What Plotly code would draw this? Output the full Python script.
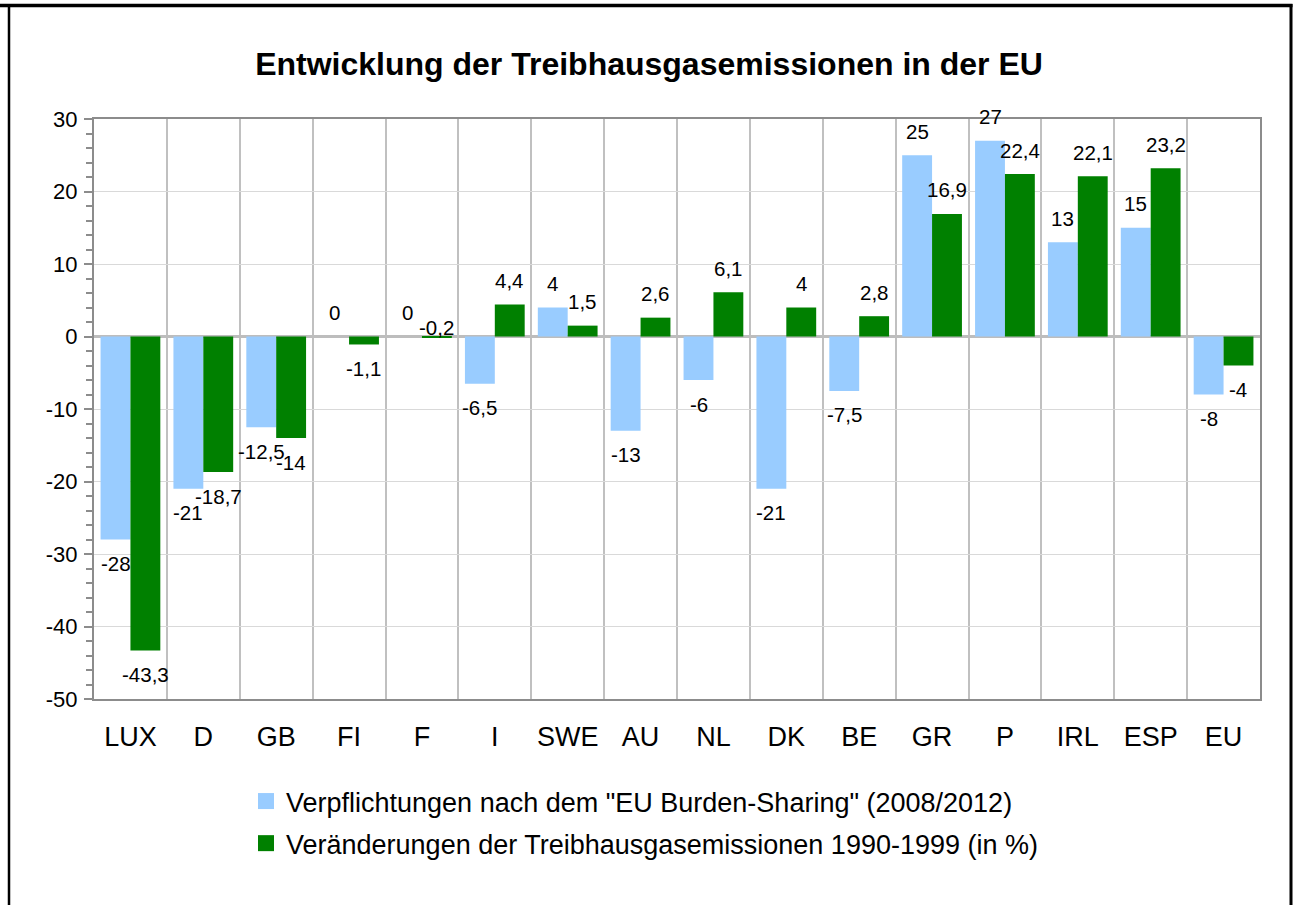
import plotly.graph_objects as go

# ---------------- data ----------------
countries = ["LUX", "D", "GB", "FI", "F", "I", "SWE", "AU", "NL", "DK",
             "BE", "GR", "P", "IRL", "ESP", "EU"]
commitments = [-28, -21, -12.5, 0, 0, -6.5, 4, -13, -6, -21, -7.5, 25, 27, 13, 15, -8]
changes = [-43.3, -18.7, -14, -1.1, -0.2, 4.4, 1.5, 2.6, 6.1, 4, 2.8, 16.9, 22.4, 22.1, 23.2, -4]
series_names = ['Verpflichtungen nach dem "EU Burden-Sharing" (2008/2012)',
                "Veränderungen der Treibhausgasemissionen 1990-1999 (in %)"]
title_text = "Entwicklung der Treibhausgasemissionen in der EU"
y_tick_values = [-50, -40, -30, -20, -10, 0, 10, 20, 30]
y_tick_labels = ["-50", "-40", "-30", "-20", "-10", "0", "10", "20", "30"]

# ---------------- style ----------------
W, H = 1298, 905
L, R, T, B = 94, 38, 119, 206
plot_w = W - L - R
plot_h = H - T - B
BLUE = "#99CCFF"
GREEN = "#008000"
FONT = "Liberation Sans, Arial, sans-serif"
BARGAP = 0.18
cat_w = plot_w / len(countries)
bar_w = cat_w * (1 - BARGAP) / 2
LABEL_OFF = 24
# special label nudges (series index, category) -> yshift override
label_override = {(1, "F"): 10.5}


def fmt(v):
    return ("%g" % v).replace(".", ",")


def px_to_paper_x(px):
    return (px - L) / plot_w


def px_to_paper_y(py):
    return (H - B - py) / plot_h


fig = go.Figure()
colors = [BLUE, GREEN]
for i, (vals, name) in enumerate(zip([commitments, changes], series_names)):
    fig.add_trace(go.Bar(x=countries, y=vals, name=name, marker_color=colors[i],
                         marker_line_width=0, showlegend=False, hoverinfo="skip"))
    # legend-only entry with larger square
    fig.add_trace(go.Scatter(x=[None], y=[None], mode="markers", name=name,
                             marker=dict(symbol="square", size=16, color=colors[i]),
                             legendgroup="g%d" % i, showlegend=True))

annotations = []
for i, vals in enumerate([commitments, changes]):
    xs = -bar_w / 2 if i == 0 else bar_w / 2
    for c, v in zip(countries, vals):
        ys = LABEL_OFF if v >= 0 else -LABEL_OFF
        ys = label_override.get((i, c), ys)
        annotations.append(dict(x=c, y=v, xref="x", yref="y", text=fmt(v),
                                showarrow=False, xshift=xs, yshift=ys,
                                xanchor="center", yanchor="middle",
                                font=dict(family=FONT, size=20.5, color="black")))

fig.update_layout(
    width=W, height=H, autosize=False,
    margin=dict(l=L, r=R, t=T, b=B, pad=0),
    paper_bgcolor="white", plot_bgcolor="white",
    barmode="group", bargap=BARGAP, bargroupgap=0,
    font=dict(family=FONT, color="black"),
    title=dict(text="<b>" + title_text + "</b>", xref="container", x=0.5,
               xanchor="center", yref="container", y=1 - 64 / H, yanchor="middle",
               font=dict(family=FONT, size=32, color="black")),
    annotations=annotations,
    legend=dict(x=px_to_paper_x(246), y=px_to_paper_y(777), xanchor="left", yanchor="top",
                orientation="v", font=dict(family=FONT, size=27, color="black"),
                bgcolor="rgba(0,0,0,0)", borderwidth=0, tracegroupgap=4,
                itemclick=False, itemdoubleclick=False),
    showlegend=True,
)

fig.update_xaxes(type="category", tickson="boundaries", showgrid=True,
                 gridcolor="#C0C0C0", gridwidth=2,
                 showline=True, linecolor="#8C8C8C", linewidth=2, mirror=True,
                 ticks="", tickfont=dict(family=FONT, size=27, color="black"),
                 ticklabelstandoff=13, fixedrange=True)
fig.update_yaxes(range=[-50, 30], tickvals=y_tick_values, ticktext=y_tick_labels,
                 showgrid=True, gridcolor="#D9D9D9", gridwidth=1,
                 zeroline=True, zerolinecolor="#BDBDBD", zerolinewidth=3,
                 showline=True, linecolor="#8C8C8C", linewidth=2, mirror=True,
                 ticks="outside", ticklen=8, tickwidth=2, tickcolor="#8C8C8C",
                 minor=dict(dtick=2, ticks="outside", ticklen=6, tickwidth=2,
                            tickcolor="#8C8C8C", showgrid=False),
                 tickfont=dict(family=FONT, size=22, color="black"),
                 ticklabelstandoff=2, fixedrange=True)

# outer chart border (thick black frame)
fig.add_shape(type="line", xref="paper", yref="paper",
              x0=px_to_paper_x(0), x1=px_to_paper_x(1292.5),
              y0=px_to_paper_y(5.5), y1=px_to_paper_y(5.5),
              line=dict(color="black", width=3.5))
fig.add_shape(type="line", xref="paper", yref="paper",
              x0=px_to_paper_x(9), x1=px_to_paper_x(9),
              y0=px_to_paper_y(4), y1=px_to_paper_y(910),
              line=dict(color="black", width=2.5))
fig.add_shape(type="line", xref="paper", yref="paper",
              x0=px_to_paper_x(1291), x1=px_to_paper_x(1291),
              y0=px_to_paper_y(4), y1=px_to_paper_y(910),
              line=dict(color="black", width=3))

fig.write_html("out.html", config={"displayModeBar": False},
               post_script="document.body.style.margin='0px';"
                           "document.body.style.overflow='hidden';")
